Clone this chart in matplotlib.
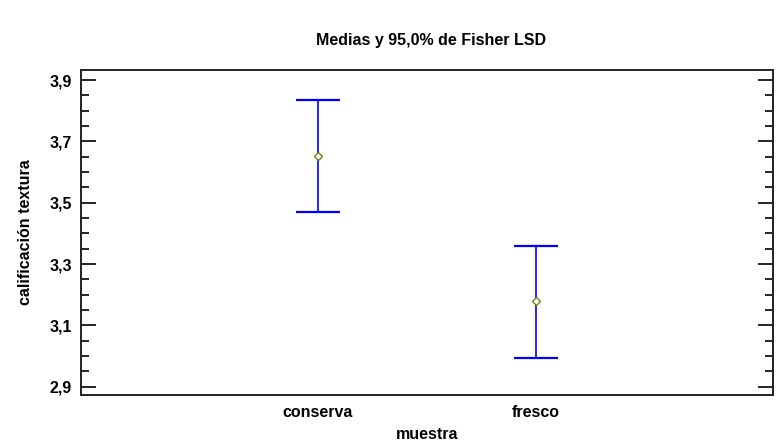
import matplotlib
matplotlib.use("Agg")
import matplotlib.pyplot as plt
import numpy as np
from matplotlib.ticker import FixedLocator

plt.rcParams['font.family'] = ['Liberation Sans', 'DejaVu Sans']

# Group means and 95% Fisher LSD interval limits
muestras = ["conserva", "fresco"]
medias = [3.653, 3.178]
limite_inferior = [3.470, 2.994]
limite_superior = [3.836, 3.360]

fig = plt.figure(figsize=(7.77, 4.45), dpi=100)
ax = fig.add_axes([80.5 / 777, 1 - 395 / 445, (773 - 80.5) / 777, (395 - 70) / 445])

x = list(range(1, len(muestras) + 1))
err_low = [m - lo for m, lo in zip(medias, limite_inferior)]
err_high = [hi - m for m, hi in zip(medias, limite_superior)]
ax.errorbar(x, medias, yerr=[err_low, err_high], fmt='none',
            ecolor='#0000ff', elinewidth=1.2, capsize=15.5, capthick=1.6)
ax.plot(x, medias, linestyle='none', marker='D', markersize=4.2,
        markerfacecolor='white', markeredgecolor='#7d7d10', markeredgewidth=1.0)

ax.set_xlim(-0.09, 3.09)
ax.set_ylim(2.873, 3.933)
ax.xaxis.set_major_locator(FixedLocator(x))
ax.set_xticklabels(muestras, fontsize=11.5, fontweight='bold')
ax.tick_params(axis='x', length=0, pad=7)

ax.yaxis.set_major_locator(FixedLocator(np.round(np.arange(2.9, 3.91, 0.2), 2)))
ax.yaxis.set_minor_locator(FixedLocator(np.round(np.arange(2.9, 3.91, 0.05), 2)))
ax.yaxis.set_major_formatter(plt.FuncFormatter(lambda v, p: f"{v:.1f}".replace('.', ',')))
ax.tick_params(axis='y', which='major', direction='in', length=11, width=1.2,
               left=True, right=True, labelsize=11.5, pad=6)
ax.tick_params(axis='y', which='minor', direction='in', length=6, width=1.2,
               left=True, right=True)
for lab in ax.get_yticklabels():
    lab.set_fontweight('bold')

for s in ax.spines.values():
    s.set_linewidth(1.4)
    s.set_color('#222222')

ax.set_xlabel("muestra", fontsize=11.5, fontweight='bold', labelpad=5)
ax.set_ylabel("calificación textura", fontsize=11.5, fontweight='bold', labelpad=12)
fig.text(431 / 777, 1 - 40 / 445, "Medias y 95,0% de Fisher LSD", ha='center', va='center',
         fontsize=11.5, fontweight='bold')

fig.savefig("out.png", dpi=100)
